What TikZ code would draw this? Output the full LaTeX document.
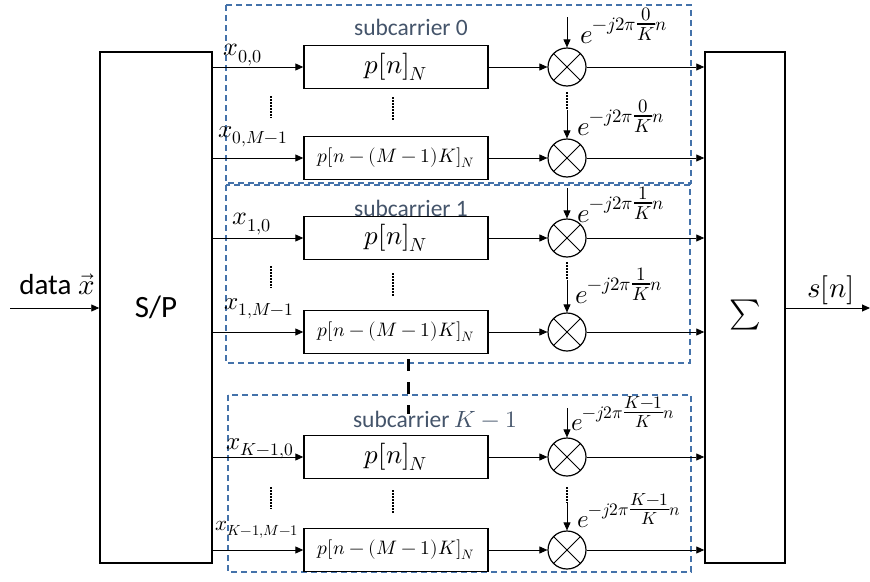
\documentclass[tikz,border=0pt]{standalone}
\usepackage{fontspec}
\usepackage{unicode-math}
\setmainfont{Carlito}
\usetikzlibrary{arrows.meta}
\definecolor{dashblue}{RGB}{68,114,170}
\definecolor{subtext}{RGB}{68,84,106}
\tikzset{
  fs/.style={font=\fontsize{#1}{#1}\selectfont},
  blk/.style={draw=black, line width=1.5pt, inner sep=0pt},
  filt/.style={draw=black, line width=1.4pt, minimum width=184pt, minimum height=43pt, inner sep=0pt},
  mult/.style={draw=black, circle, line width=1.2pt, minimum size=38pt, inner sep=0pt,
    path picture={\draw[line width=0.8pt] (path picture bounding box.north west) -- (path picture bounding box.south east)
      (path picture bounding box.north east) -- (path picture bounding box.south west);}},
  sig/.style={draw=black, line width=0.9pt, -{Triangle[length=8pt,width=7pt]}},
  subbox/.style={draw=dashblue, line width=1.3pt, dash pattern=on 6pt off 4pt},
  dots/.style={draw=black, line width=1.8pt, dash pattern=on 1.5pt off 1.5pt},
  lbl/.style={inner sep=0pt},
  sublbl/.style={inner sep=0pt, text=subtext, fs=23.5},
}
\newcommand{\tfr}[2]{{\textstyle\frac{#1}{#2}}}
\begin{document}
\begin{tikzpicture}[x=1pt,y=-1pt]
\useasboundingbox (0,0) rectangle (870,581);
% subcarrier frames
\draw[subbox] (226,5) rectangle (691,183);
\draw[subbox] (226,185) rectangle (690,363);
\draw[subbox] (228,395) rectangle (691,572);
\draw[line width=3pt, dash pattern=on 12pt off 11pt] (408,359) -- (408,414);
\node[sublbl] (s0) at (411,27) {subcarrier 0};
\node[sublbl] (s1) at (411,208) {subcarrier 1};
\node[sublbl] (s2) at (435,419) {subcarrier $K-1$};
% main blocks
\node[blk, minimum width=112pt, minimum height=511pt, fs=31] (sp) at (156,307.5) {S/P};
\node[blk, minimum width=80pt, minimum height=511pt] (sum) at (745,307.5) {};
\node[lbl, fs=30] (sumsym) at (745,315) {$\sum$};
\node[lbl, fs=29] (data) at (57,284) {data $\vec{x}$};
\node[lbl, fs=29] (sn) at (831,290) {$s[n]$};
\coordinate (din) at (10,308);
\coordinate (dout) at (870,308);
\draw[sig] (din) -- (din -| sp.west);
\draw[sig] (sum.east |- dout) -- (dout);
% filters
\node[filt, fs=27] (f1) at (396,67) {$p[n]_N$};
\node[filt, fs=19.5] (f2) at (396,158) {$p[n-(M-1)K]_N$};
\node[filt, fs=27] (f3) at (396,238) {$p[n]_N$};
\node[filt, fs=19.5] (f4) at (396,332) {$p[n-(M-1)K]_N$};
\node[filt, fs=27] (f5) at (396,457) {$p[n]_N$};
\node[filt, fs=19.5] (f6) at (396,550) {$p[n-(M-1)K]_N$};
% multipliers
\foreach \i/\y in {1/67,2/158,3/238,4/332,5/457,6/550}{
  \node[mult] (m\i) at (567,\y) {};
  \draw[sig] (sp.east |- f\i.west) -- (f\i.west);
  \draw[sig] (f\i.east) -- (m\i.west);
  \draw[sig] (m\i.east) -- (m\i.east -| sum.west);
}
% input labels
\node[lbl, fs=26] (x1) at (243,55) {$x_{0,0}$};
\node[lbl, fs=25] (x2) at (253,137) {$x_{0,M-1}$};
\node[lbl, fs=26] (x3) at (252,224) {$x_{1,0}$};
\node[lbl, fs=25] (x4) at (259,309) {$x_{1,M-1}$};
\node[lbl, fs=25] (x5) at (260,449) {$x_{K-1,0}$};
\node[lbl, fs=21] (x6) at (257,530) {$x_{K-1,M-1}$};
% vertical dots
\foreach \a/\b in {96/118,266/288,487/509}{
  \coordinate (da\a) at (271,\a); \coordinate (db\a) at (271,\b);
  \draw[dots] (da\a) -- (db\a);
}
\foreach \a/\b in {97/121,273/297,490/514}{
  \coordinate (dc\a) at (393,\a); \coordinate (dd\a) at (393,\b);
  \draw[dots] (dc\a) -- (dd\a);
}
% carrier inputs
\coordinate (t1) at (567,17);
\coordinate (t3) at (567,188);
\coordinate (t5) at (567,408);
\draw[sig] (t1) -- (m1.north);
\draw[sig] (t3) -- (m3.north);
\draw[sig] (t5) -- (m5.north);
\coordinate (u2) at (567,92); \coordinate (v2) at (567,110);
\coordinate (u4) at (567,262); \coordinate (v4) at (567,280);
\coordinate (u6) at (567,487); \coordinate (v6) at (567,503);
\draw[dots] (u2) -- (v2); \draw[sig] (v2) -- (m2.north);
\draw[dots] (u4) -- (v4); \draw[sig] (v4) -- (m4.north);
\draw[dots] (u6) -- (v6); \draw[sig] (v6) -- (m6.north);
% exponent labels
\node[lbl, fs=27, anchor=base west] (e1) at (580,43) {$e^{-j2\pi\tfr{0}{K}n}$};
\node[lbl, fs=27, anchor=base west] (e2) at (577,135) {$e^{-j2\pi\tfr{0}{K}n}$};
\node[lbl, fs=27, anchor=base west] (e3) at (577,222) {$e^{-j2\pi\tfr{1}{K}n}$};
\node[lbl, fs=27, anchor=base west] (e4) at (575,303) {$e^{-j2\pi\tfr{1}{K}n}$};
\node[lbl, fs=25, anchor=base west] (e5) at (571,430) {$e^{-j2\pi\tfr{K-1}{K}n}$};
\node[lbl, fs=25, anchor=base west] (e6) at (577,527) {$e^{-j2\pi\tfr{K-1}{K}n}$};
\end{tikzpicture}
\end{document}
